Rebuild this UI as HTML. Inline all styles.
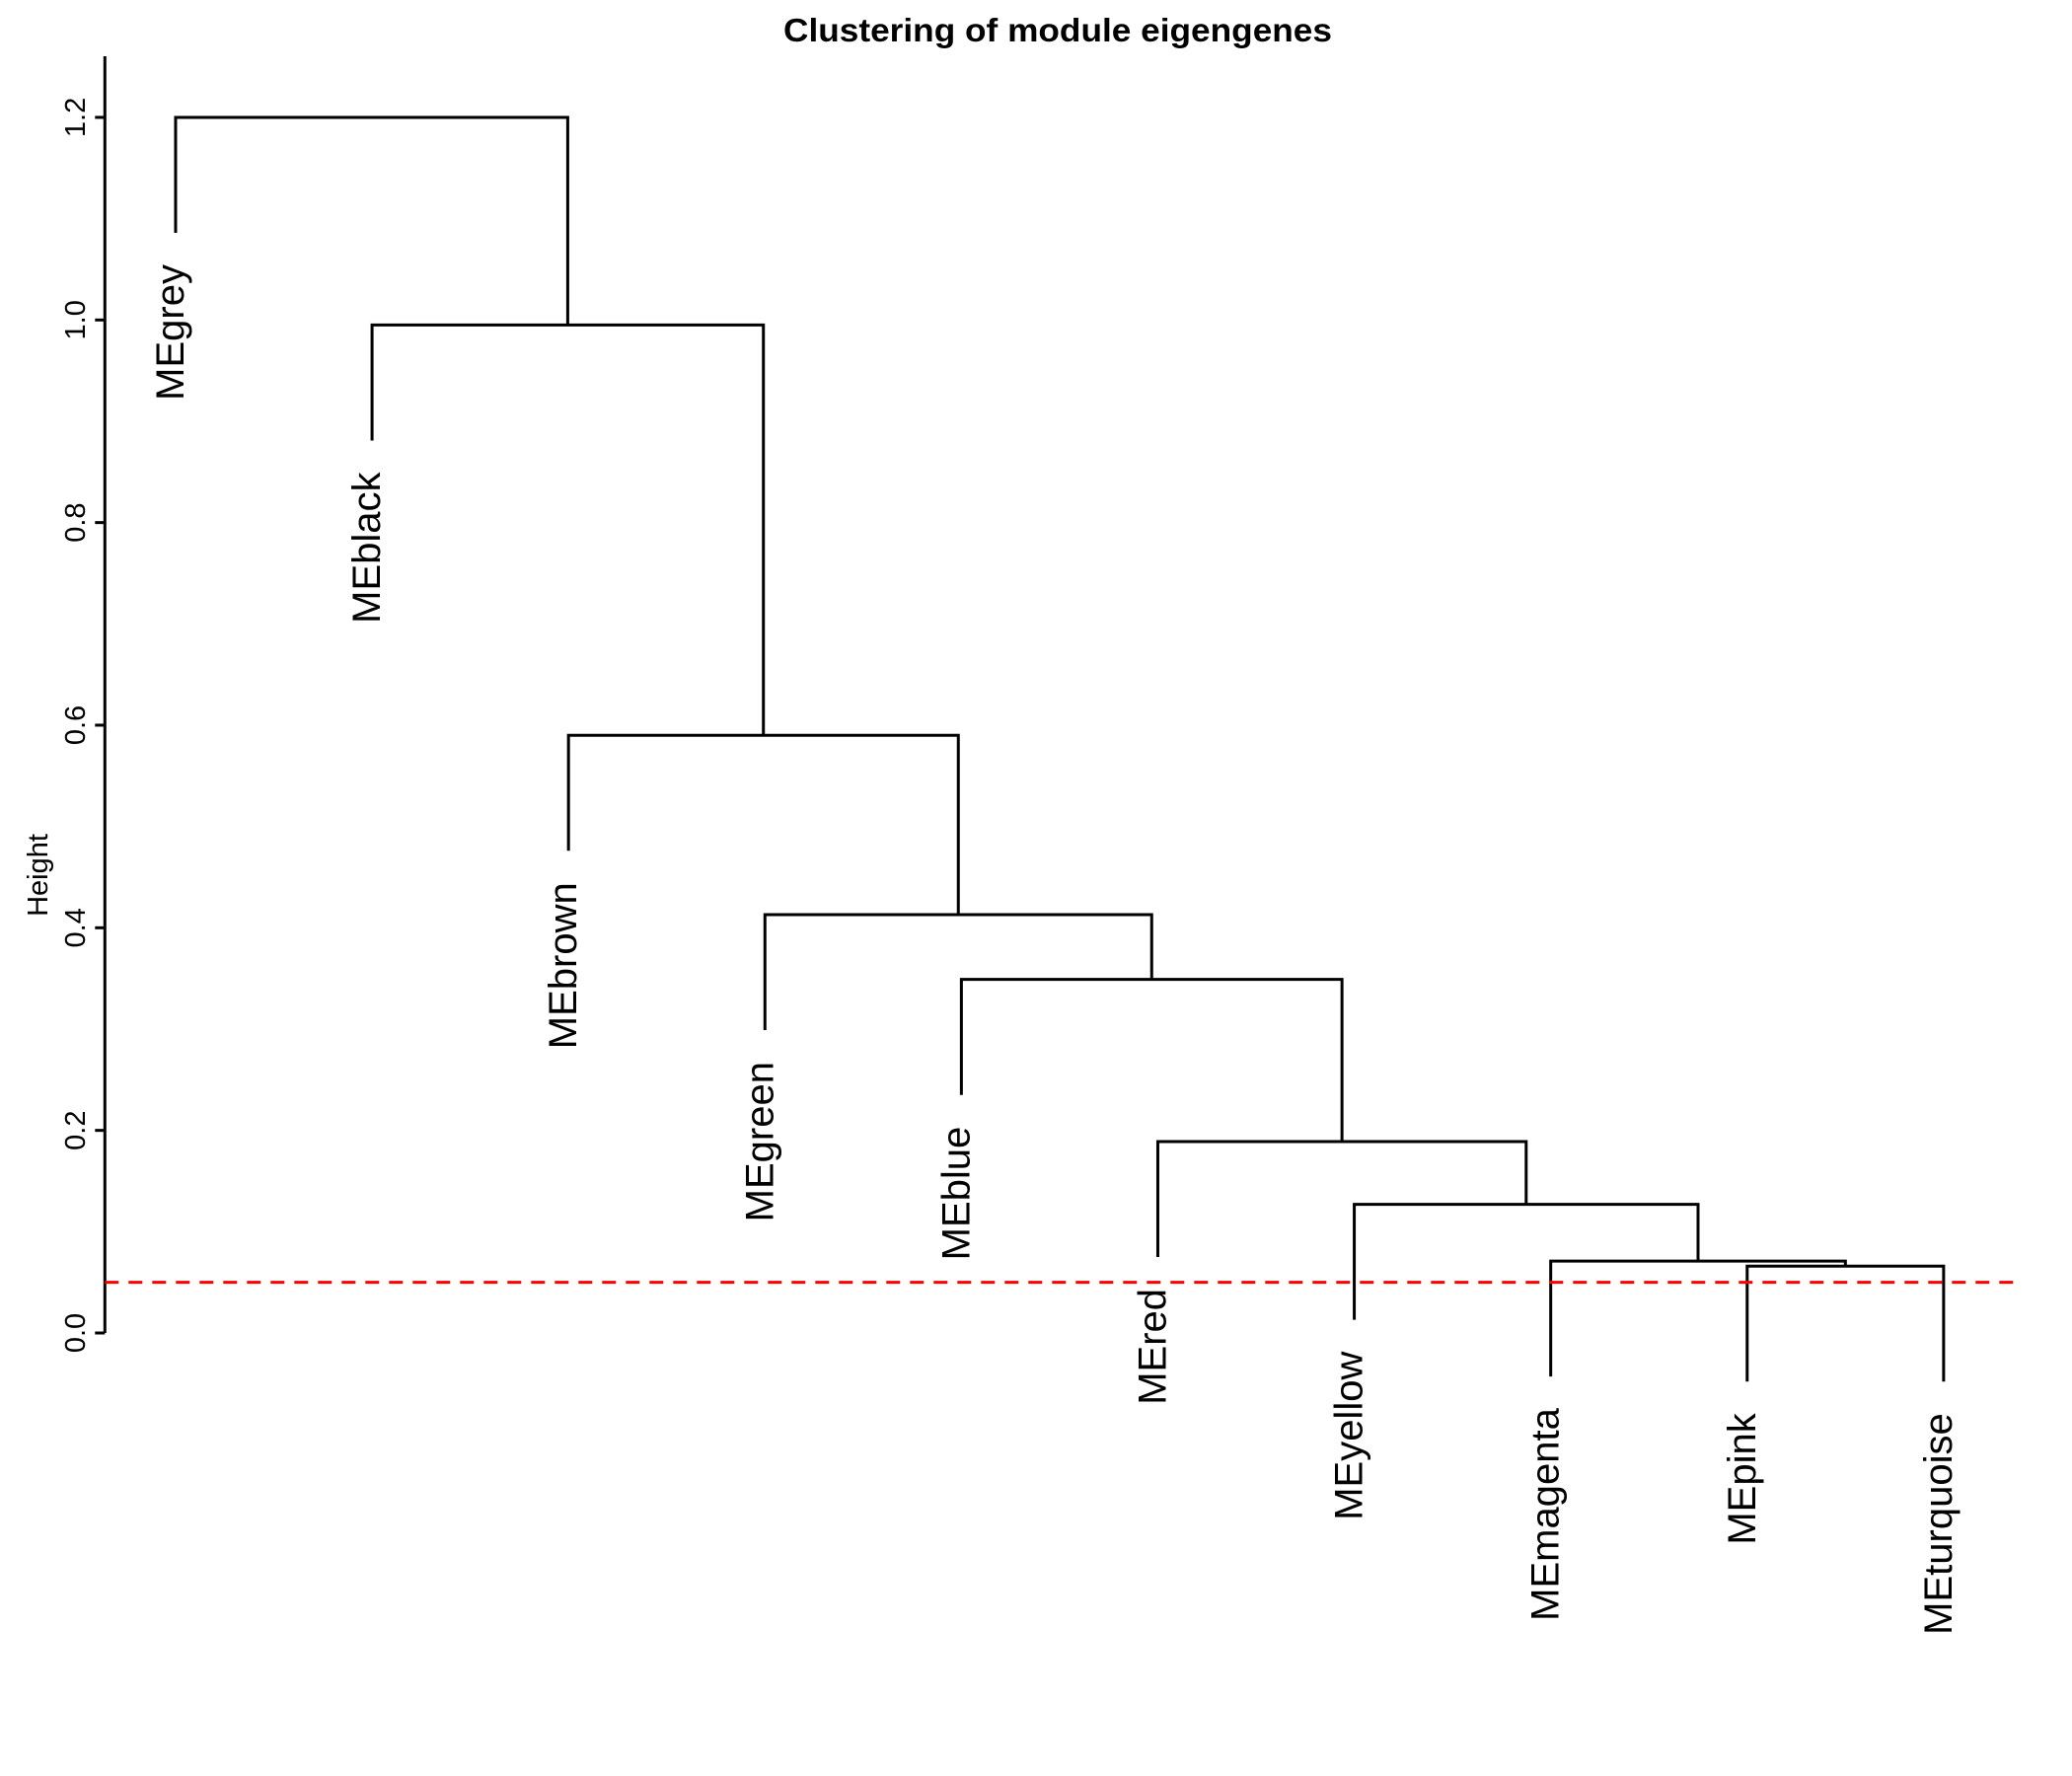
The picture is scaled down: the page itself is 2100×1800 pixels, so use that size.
<!DOCTYPE html>
<html><head><meta charset="utf-8"><style>
html,body{margin:0;padding:0;background:#fff;}
svg{display:block;font-family:"Liberation Sans",Arial,sans-serif;}
</style></head><body>
<svg id="chart" width="2100" height="1800" viewBox="0 0 2100 1800">
<text x="1072" y="42" text-anchor="middle" font-size="33" font-weight="bold" textLength="556" lengthAdjust="spacingAndGlyphs">Clustering of module eigengenes</text>
<text transform="translate(48,887) rotate(-90)" text-anchor="middle" font-size="29">Height</text>
<g id="axis"></g>
<g id="tree"></g>
<g id="labels"></g>
</svg>
<script>
const leaves = ["MEgrey","MEblack","MEbrown","MEgreen","MEblue","MEred","MEyellow","MEmagenta","MEpink","MEturquoise"];
// merges: [left, right, height]; negative = leaf index (1-based), positive = merge index
const mergeLeft = [-9, -8, -7, -6, -5, -4, -3, -2, -1];
const mergeRight = [-10, 1, 2, 3, 4, 5, 6, 7, 8];
const mergeHeight = [0.066, 0.071, 0.127, 0.189, 0.349, 0.413, 0.590, 0.995, 1.2];
const yTicks = [0.0, 0.2, 0.4, 0.6, 0.8, 1.0, 1.2];
const cutHeight = 0.05;
const hang = 0.114;

const NS = "http://www.w3.org/2000/svg";
const X0 = 106.3, XS = 199.1;
const xPos = i => X0 + (i - 0.64) * XS;
const Y0 = 1351, YS = 1026.7;
const yPos = h => Y0 - h * YS;
const xRight = xPos(10.36);

function mk(tag, attrs, parent) {
  const el = document.createElementNS(NS, tag);
  for (const k in attrs) el.setAttribute(k, attrs[k]);
  parent.appendChild(el);
  return el;
}
const axis = document.getElementById('axis');
const tree = document.getElementById('tree');
const labels = document.getElementById('labels');

let line = mk('line', {x1: X0, x2: X0, y1: 57, y2: yPos(0), stroke: '#000', 'stroke-width': 3}, axis);


yTicks.forEach(t => {
  const tk = mk('line', {x1: X0 - 10, x2: X0, y1: yPos(t), y2: yPos(t), stroke: '#000', 'stroke-width': 3}, axis);
  
  
  const tl = mk('text', {transform: `translate(86,${yPos(t)}) rotate(-90)`, 'text-anchor': 'middle', 'font-size': 29}, axis);
  tl.textContent = t.toFixed(1);
  
  
});

const leafX = {};
leaves.forEach((n, i) => { leafX[-(i + 1)] = xPos(i + 1); });
const nodeX = {}, nodeH = {};
function getX(id) { return id < 0 ? leafX[id] : nodeX[id]; }
mergeHeight.forEach((h, k) => {
  const id = k + 1;
  const a = mergeLeft[k], b = mergeRight[k];
  const xa = getX(a), xb = getX(b);
  nodeX[id] = (xa + xb) / 2; nodeH[id] = h;
  const ha = a < 0 ? h - hang : nodeH[a];
  const hb = b < 0 ? h - hang : nodeH[b];
  const p = mk('path', {d: `M${xa},${yPos(ha)} V${yPos(h)} H${xb} V${yPos(hb)}`, fill: 'none', stroke: '#000', 'stroke-width': 3}, tree);
  
  
  [[a, ha], [b, hb]].forEach(([c, hc]) => {
    if (c < 0) {
      const idx = -c - 1;
      const t = mk('text', {transform: `translate(${leafX[c] + 8},${yPos(hc) + 32}) rotate(-90)`, 'text-anchor': 'end', 'font-size': 40}, labels);
      t.textContent = leaves[idx];
      
      
    }
  });
});

const cut = mk('line', {x1: X0, x2: xRight, y1: yPos(cutHeight), y2: yPos(cutHeight), stroke: '#ff0000', 'stroke-width': 3, 'stroke-dasharray': '14 10'}, tree);


</script>
</body></html>
